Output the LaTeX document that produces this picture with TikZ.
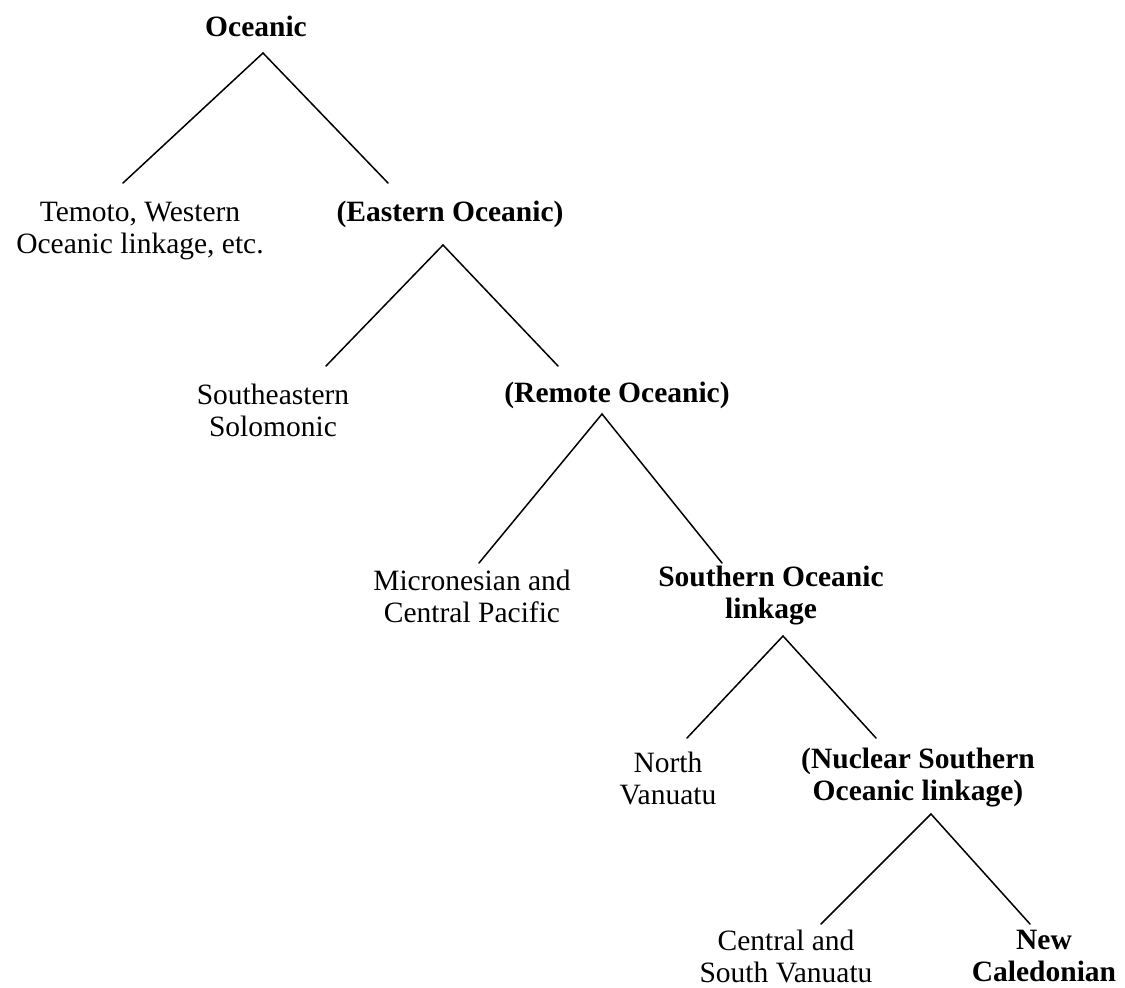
\documentclass[tikz,border=0pt]{standalone}
\usepackage{fontspec}
\setmainfont{Liberation Serif}
\begin{document}
\begin{tikzpicture}[x=1pt,y=-1pt,
  lbl/.style={inner sep=0pt, align=center, font=\fontsize{29.5}{32}\selectfont},
  blbl/.style={lbl, font=\fontsize{29.5}{32}\selectfont\bfseries},
  branch/.style={line width=1.5pt, line cap=round}]
\useasboundingbox[fill=white] (0,0) rectangle (1125,988);
% nodes
\node[blbl] (oceanic) at (256,26) {Oceanic};
\node[lbl]  (temoto) at (140,231) {Temoto, Western\\Oceanic linkage, etc.};
\node[blbl] (eastern) at (450,214) {(Eastern Oceanic)};
\node[lbl]  (seso) at (273,410) {Southeastern\\Solomonic};
\node[blbl] (remote) at (617,395) {(Remote Oceanic)};
\node[lbl]  (micro) at (472,596) {Micronesian and\\Central Pacific};
\node[blbl] (southern) at (771,596) {Southern Oceanic\\linkage};
\node[lbl]  (north) at (668,778) {North\\Vanuatu};
\node[blbl] (nuclear) at (918,778) {(Nuclear Southern\\Oceanic linkage)};
\node[lbl]  (central) at (786,956) {Central and\\South Vanuatu};
\node[blbl] (newcal) at (1044,956) {New\\Caledonian};
% connector end points
\coordinate (oceanic-b) at (263,53);
\coordinate (temoto-t) at (123,183);
\coordinate (eastern-t) at (388,183);
\coordinate (eastern-b) at (443,245);
\coordinate (seso-t) at (326,366);
\coordinate (remote-t) at (558,366);
\coordinate (remote-b) at (602,414);
\coordinate (micro-t) at (479,563);
\coordinate (southern-t) at (722,563);
\coordinate (southern-b) at (783,636);
\coordinate (north-t) at (687,738);
\coordinate (nuclear-t) at (876,738);
\coordinate (nuclear-b) at (931,814);
\coordinate (central-t) at (821,924);
\coordinate (newcal-t) at (1030,924);
% connectors
\draw[branch] (temoto-t) -- (oceanic-b) -- (eastern-t);
\draw[branch] (seso-t) -- (eastern-b) -- (remote-t);
\draw[branch] (micro-t) -- (remote-b) -- (southern-t);
\draw[branch] (north-t) -- (southern-b) -- (nuclear-t);
\draw[branch] (central-t) -- (nuclear-b) -- (newcal-t);
\end{tikzpicture}
\end{document}
